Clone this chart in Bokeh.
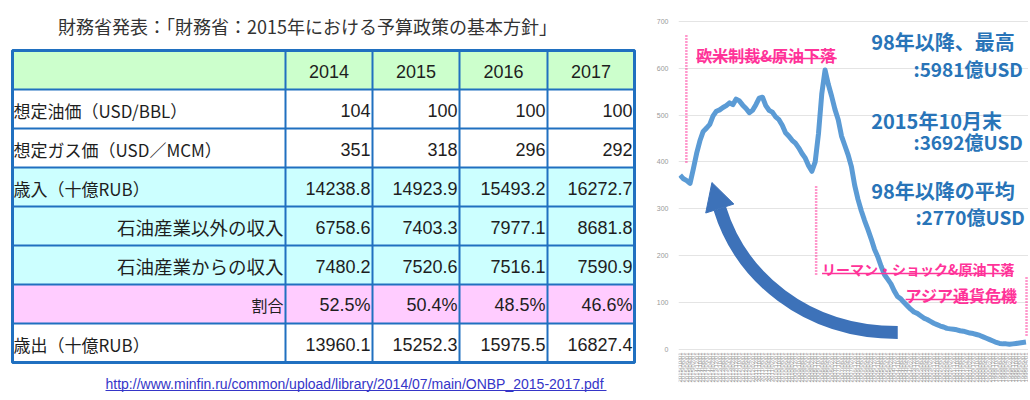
import math
from bokeh.plotting import figure
from bokeh.layouts import row
from bokeh.models import Range1d, FixedTicker
from bokeh.core.properties import value
from bokeh.embed import file_html
from bokeh.resources import INLINE

# ---------------- table data ----------------
title_text = "財務省発表：「財務省：2015年における予算政策の基本方針」"
link_text = "http://www.minfin.ru/common/upload/library/2014/07/main/ONBP_2015-2017.pdf"
years = ["2014", "2015", "2016", "2017"]
row_labels = ["想定油価（USD/BBL）", "想定ガス価（USD／MCM）", "歳入（十億RUB）",
              "石油産業以外の収入", "石油産業からの収入", "割合", "歳出（十億RUB）"]
oil_price = ["104", "100", "100", "100"]
gas_price = ["351", "318", "296", "292"]
revenue = ["14238.8", "14923.9", "15493.2", "16272.7"]
non_oil_revenue = ["6758.6", "7403.3", "7977.1", "8681.8"]
oil_revenue = ["7480.2", "7520.6", "7516.1", "7590.9"]
oil_share = ["52.5%", "50.4%", "48.5%", "46.6%"]
expenditure = ["13960.1", "15252.3", "15975.5", "16827.4"]

# ---------------- chart data: reserves (newest on the left) ----------------
reserves = [372, 364, 360, 354, 385, 418, 445, 465, 472, 480,
            498, 508, 511, 516, 520, 526, 522, 534, 530, 521,
            514, 505, 510, 522, 536, 538, 520, 510, 506, 496,
            490, 478, 462, 455, 446, 440, 430, 418, 408, 392,
            380, 400, 460, 545, 596, 565, 540, 512, 490, 455,
            435, 415, 390, 350, 320, 296, 275, 256, 236, 214,
            198, 178, 160, 150, 140, 125, 113, 108, 100, 93,
            86, 80, 77, 72, 67, 64, 60, 56, 53, 50,
            48, 45, 44, 43, 42, 40, 39, 37, 35, 34,
            32, 30, 27, 24, 21, 18, 15, 13, 12, 12,
            11, 12, 13, 14, 15, 16]
date_labels = []
_y, _m = 2015, 10
for _ in range(len(reserves)):
    date_labels.append(f"{_y}/{_m:02d}/01")
    _m -= 2
    if _m <= 0:
        _m += 12
        _y -= 1
y_ticks = [0, 100, 200, 300, 400, 500, 600, 700]

JP = value("Noto Sans CJK JP")
LAT = value("Liberation Sans")
H = 398

# ================= left: table =================
p1 = figure(width=653, height=H, x_range=Range1d(0, 653), y_range=Range1d(H, 0),
            output_backend="svg", toolbar_location=None, min_border=0)
p1.axis.visible = False
p1.grid.visible = False
p1.outline_line_color = None

col_edges = [12, 285, 372, 459, 547, 634]
row_edges = [50, 89, 128, 167, 206, 245, 284, 323, 362]
row_fill = ["#ccffcc", "#ffffff", "#ffffff", "#ccffff", "#ccffff", "#ccffff", "#ffccff", "#ffffff"]
p1.quad(left=[col_edges[0]] * 8, right=[col_edges[-1]] * 8, top=row_edges[:-1],
        bottom=row_edges[1:], fill_color=row_fill, line_color=None)

cell_rows = [oil_price, gas_price, revenue, non_oil_revenue, oil_revenue, oil_share, expenditure]
vx, vyy, vt = [], [], []
for r, vals in enumerate(cell_rows):
    for c, v in enumerate(vals):
        vx.append(col_edges[c + 2] - 2)
        vyy.append((row_edges[r + 1] + row_edges[r + 2]) / 2 + 1)
        vt.append(v)
p1.text(x=vx, y=vyy, text=vt, text_font=LAT, text_font_size="18px", text_color="#1e1e1e",
        text_align="right", text_baseline="middle")
p1.text(x=[(col_edges[c + 1] + col_edges[c + 2]) / 2 for c in range(4)],
        y=[(row_edges[0] + row_edges[1]) / 2 + 1] * 4, text=years, text_font=LAT,
        text_font_size="18px", text_color="#1e1e1e", text_align="center", text_baseline="middle")

left_rows = [0, 1, 2, 6]
wide_rows = [3, 4]
p1.text(x=[col_edges[0] + 1] * 4, y=[(row_edges[r + 1] + row_edges[r + 2]) / 2 + 1 for r in left_rows],
        text=[row_labels[r] for r in left_rows], text_font=JP, text_font_size="17px",
        text_color="#1e1e1e", text_align="left", text_baseline="middle")
p1.text(x=[col_edges[1] - 2] * 2, y=[(row_edges[r + 1] + row_edges[r + 2]) / 2 + 1 for r in wide_rows],
        text=[row_labels[r] for r in wide_rows], text_font=JP, text_font_size="18.5px",
        text_color="#1e1e1e", text_align="right", text_baseline="middle")
p1.text(x=[col_edges[1] - 2], y=[(row_edges[6] + row_edges[7]) / 2 + 1],
        text=[row_labels[5]], text_font=JP, text_font_size="16px",
        text_color="#1e1e1e", text_align="right", text_baseline="middle")

border = "#2070c0"
p1.segment(x0=[col_edges[0]] * 9, x1=[col_edges[-1]] * 9, y0=row_edges, y1=row_edges,
           line_color=border, line_width=2)
p1.segment(x0=col_edges, x1=col_edges, y0=[row_edges[0]] * 6, y1=[row_edges[-1]] * 6,
           line_color=border, line_width=2)
p1.quad(left=[col_edges[0]], right=[col_edges[-1]], top=[row_edges[0]], bottom=[row_edges[-1]],
        fill_color=None, line_color=border, line_width=3)

p1.text(x=[307], y=[25], text=[title_text], text_font=JP, text_font_size="18px",
        text_color="#333333", text_align="center", text_baseline="middle")
p1.text(x=[105], y=[383], text=[link_text], text_font=LAT, text_font_size="14px",
        text_color="#3535c8", text_align="left", text_baseline="middle")
p1.segment(x0=[105], x1=[606], y0=[390], y1=[390], line_color="#3535c8", line_width=1)

# ================= right: reserves chart =================
X0 = 653      # left edge of this figure in page pixels
sx = 3.35     # pixels per bimonthly step


def ix(px):
    return (px - 672) / sx - 0.5


def vy(py):
    return (349 - py) / 0.469


W2 = 1028 - X0
p2 = figure(width=W2, height=H, x_range=Range1d(ix(672), ix(1028)), y_range=Range1d(vy(H), vy(0)),
            output_backend="svg", toolbar_location=None, min_border_left=19, min_border_right=0,
            min_border_top=0, min_border_bottom=0, x_axis_location=None)
p2.outline_line_color = None
p2.xgrid.visible = False
p2.ygrid.ticker = FixedTicker(ticks=y_ticks)
p2.ygrid.grid_line_color = "#e4e4e4"
p2.yaxis.ticker = FixedTicker(ticks=y_ticks)
p2.yaxis.axis_line_color = None
p2.yaxis.major_tick_line_color = None
p2.yaxis.minor_tick_line_color = None
p2.yaxis.major_label_text_font_size = "7px"
p2.yaxis.major_label_text_color = "#999999"
p2.yaxis.major_label_standoff = 4

xs = list(range(len(reserves)))
# rotated date tick labels under the zero line
p2.text(x=xs, y=[vy(352)] * len(xs), text=date_labels, angle=math.pi / 2,
        text_font=LAT, text_font_size="6px", text_color="#9a9a9a",
        text_align="right", text_baseline="middle")

p2.line(x=xs, y=reserves, line_width=5, line_color="#5b9bd5", line_join="round")

# event markers
pink = "#ff3399"
p2.segment(x0=[ix(680), ix(812), ix(1026)], x1=[ix(680), ix(812), ix(1026)],
           y0=[vy(35), vy(186), vy(277)], y1=[vy(163), vy(275), vy(337)],
           line_color=pink, line_width=2.5, line_dash="1 2")
p2.text(x=[ix(690), ix(903)], y=[vy(42), vy(282)],
        text=["欧米制裁&原油下落", "アジア通貨危機"],
        text_font=JP, text_font_size="16px", text_font_style="bold", text_color=pink,
        text_align="left", text_baseline="top")
p2.text(x=[ix(818)], y=[vy(258)], text=["リーマン・ショック&原油下落"],
        text_font=JP, text_font_size="14px", text_font_style="bold", text_color=pink,
        text_align="left", text_baseline="top")
p2.segment(x0=[ix(690), ix(818), ix(903)], x1=[ix(833), ix(1012), ix(1013)],
           y0=[vy(58), vy(273), vy(299)], y1=[vy(58), vy(273), vy(299)],
           line_color=pink, line_width=1.5)

blue = "#2874b8"
p2.text(x=[ix(868), ix(868), ix(868)], y=[vy(26), vy(105), vy(175)],
        text=["98年以降、最高", "2015年10月末", "98年以降の平均"],
        text_font=JP, text_font_size="20px", text_font_style="bold", text_color=blue,
        text_align="left", text_baseline="top")
p2.text(x=[ix(911), ix(911), ix(913)], y=[vy(54), vy(127), vy(202)],
        text=[":5981億USD", ":3692億USD", ":2770億USD"],
        text_font=JP, text_font_size="19px", text_font_style="bold", text_color=blue,
        text_align="left", text_baseline="top")

# curved arrow
arrow_c = "#3d72b9"
p2.bezier(x0=[ix(895)], y0=[vy(332)], x1=[ix(714)], y1=[vy(208)],
          cx0=[ix(800)], cy0=[vy(332)], cx1=[ix(735)], cy1=[vy(275)],
          line_color=arrow_c, line_width=13, line_cap="butt")
p2.patch(x=[ix(699.7), ix(706), ix(728.3)], y=[vy(212.5), vy(182), vy(203.5)],
         fill_color=arrow_c, line_color=arrow_c, line_width=1)

layout = row(p1, p2)
open("out.html", "w").write(file_html(layout, INLINE))
